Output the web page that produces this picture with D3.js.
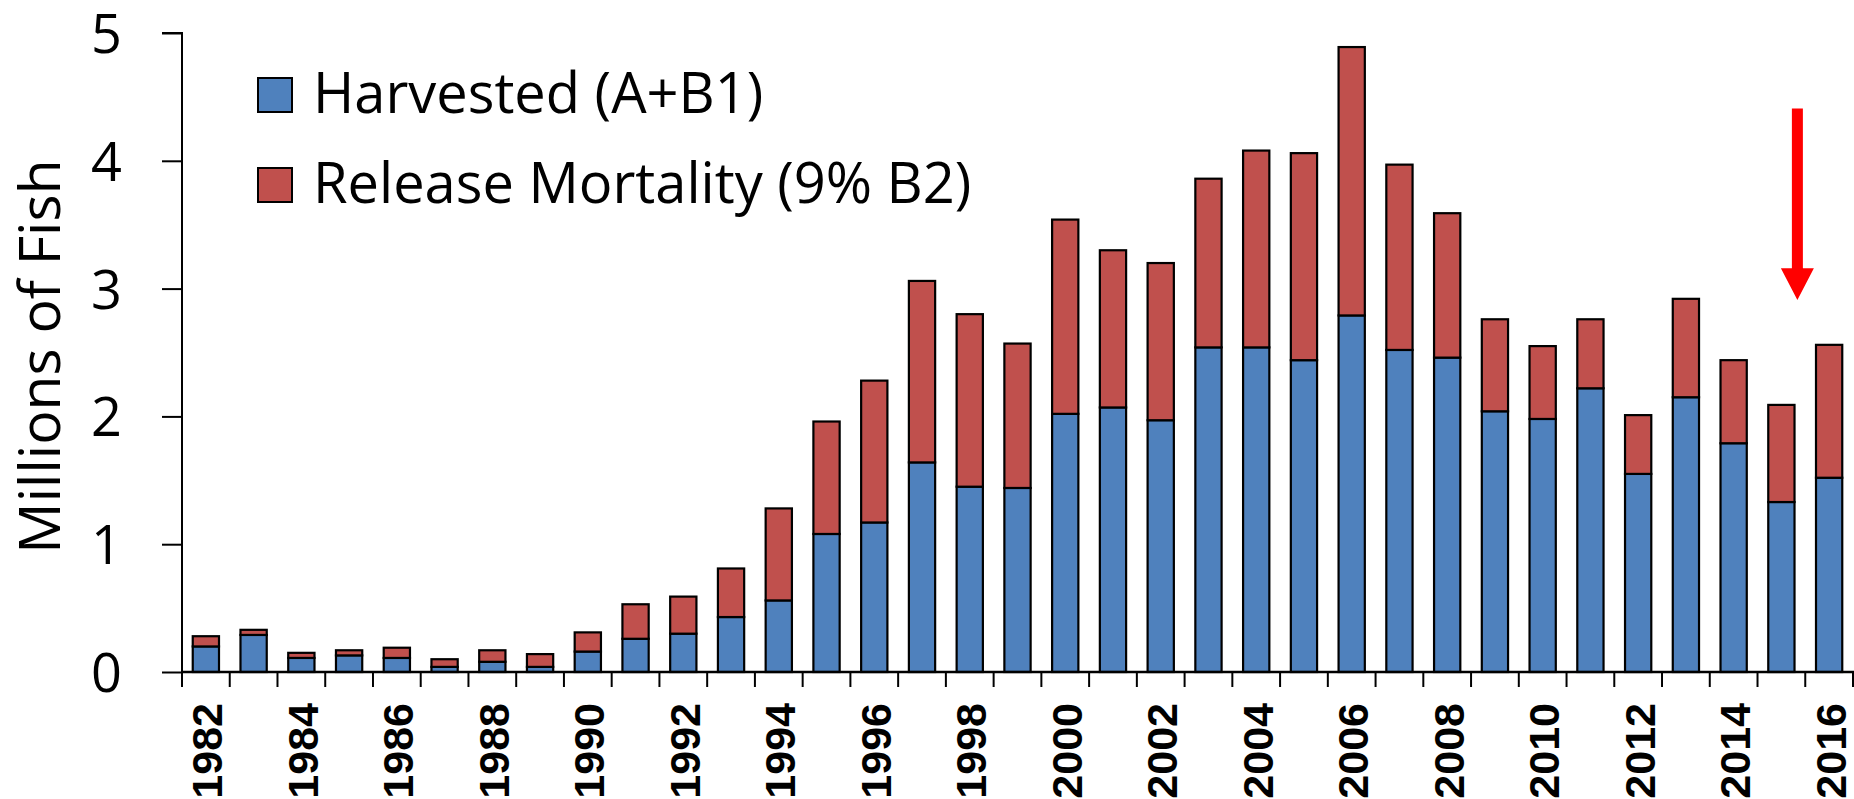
<!DOCTYPE html>
<html>
<head>
<meta charset="utf-8">
<script src="https://cdn.jsdelivr.net/npm/d3@7"></script>
<style>
  html, body { margin: 0; padding: 0; background: #fff; overflow: hidden; }
  svg { display: block; }
</style>
</head>
<body>
<svg id="chart" width="1854" height="799"></svg>
<script>
// ---- data ----
const years = [1982,1983,1984,1985,1986,1987,1988,1989,1990,1991,1992,1993,1994,1995,1996,1997,1998,1999,2000,2001,2002,2003,2004,2005,2006,2007,2008,2009,2010,2011,2012,2013,2014,2015,2016];
const harvested = [0.20,0.29,0.11,0.13,0.11,0.04,0.08,0.04,0.16,0.26,0.30,0.43,0.56,1.08,1.17,1.64,1.45,1.44,2.02,2.07,1.97,2.54,2.54,2.44,2.79,2.52,2.46,2.04,1.98,2.22,1.55,2.15,1.79,1.33,1.52];
const totals    = [0.28,0.33,0.15,0.17,0.19,0.10,0.17,0.14,0.31,0.53,0.59,0.81,1.28,1.96,2.28,3.06,2.80,2.57,3.54,3.30,3.20,3.86,4.08,4.06,4.89,3.97,3.59,2.76,2.55,2.76,2.01,2.92,2.44,2.09,2.56];
const releaseMortality = totals.map((t, i) => +(t - harvested[i]).toFixed(2));
const yTicks = [0,1,2,3,4,5];
const xTickLabels = years.filter(v => (v - 1982) % 2 === 0);
const seriesNames = ["Harvested (A+B1)", "Release Mortality (9% B2)"];
const seriesKeys = ["harvested", "release"];
const seriesColors = ["#4F81BD", "#C0504D"];
const arrowYear = 2015;

// ---- build ----
const svg = d3.select("#chart");
const W = 1854, H = 799;
const mLeft = 182, mRight = 1853, mTop = 33, mBottom = 672;

const x = d3.scaleBand().domain(years).range([mLeft, mRight]).paddingInner(0.45).paddingOuter(0.225);
const y = d3.scaleLinear().domain([0, 5]).range([mBottom, mTop]);

const rows = years.map((yr, i) => ({ year: yr, harvested: harvested[i], release: releaseMortality[i] }));
const stacked = d3.stack().keys(seriesKeys)(rows);
const color = d3.scaleOrdinal().domain(seriesKeys).range(seriesColors);

// bars
svg.append("g").selectAll("g").data(stacked).join("g")
  .attr("fill", d => color(d.key))
  .selectAll("rect").data(d => d).join("rect")
  .attr("x", d => x(d.data.year))
  .attr("width", x.bandwidth())
  .attr("y", d => y(d[1]))
  .attr("height", d => y(d[0]) - y(d[1]))
  .attr("stroke", "#000")
  .attr("stroke-width", 2.2);

// y axis
const yAxis = svg.append("g").attr("transform", `translate(${mLeft},0)`)
  .call(d3.axisLeft(y).tickValues(yTicks).tickSize(20).tickPadding(40).tickFormat(d3.format("d")));
yAxis.select(".domain").attr("stroke", "#000").attr("stroke-width", 2).attr("d", `M-20,${y(5)}H0V${y(0)}`);
yAxis.selectAll(".tick line").attr("stroke", "#000").attr("stroke-width", 2);
yAxis.selectAll(".tick text")
  .attr("font-family", "'Open Sans', sans-serif")
  .attr("font-size", 54)
  .attr("fill", "#000")
  .attr("dy", "0.36em");

// x axis: line + ticks at band boundaries
const step = x.step();
const xAxisG = svg.append("g");
xAxisG.append("line")
  .attr("x1", mLeft).attr("x2", W).attr("y1", mBottom).attr("y2", mBottom)
  .attr("stroke", "#000").attr("stroke-width", 2.5);
const boundaries = years.map(yr => x(yr) + x.bandwidth() / 2 - step / 2).concat([x(years[years.length - 1]) + x.bandwidth() / 2 + step / 2]);
xAxisG.selectAll("line.tk").data(boundaries).join("line")
  .attr("class", "tk")
  .attr("x1", d => d).attr("x2", d => d)
  .attr("y1", mBottom).attr("y2", mBottom + 15)
  .attr("stroke", "#000").attr("stroke-width", 2);

// x labels
xAxisG.selectAll("text").data(xTickLabels).join("text")
  .attr("transform", d => `translate(${x(d) + x.bandwidth() / 2 + 1},${mBottom + 31}) rotate(-90)`)
  .attr("text-anchor", "end")
  .attr("dy", "0.36em")
  .attr("font-family", "'Liberation Sans', Arial, sans-serif")
  .attr("font-weight", "bold")
  .attr("font-size", 43)
  .attr("fill", "#000")
  .text(d => d);

// y axis title
svg.append("text")
  .attr("transform", `translate(39,${(mTop + mBottom) / 2 + 4}) rotate(-90)`)
  .attr("text-anchor", "middle")
  .attr("dy", "0.36em")
  .attr("font-family", "'Open Sans', sans-serif")
  .attr("font-size", 57)
  .attr("fill", "#000")
  .text("Millions of Fish");

// legend
const legend = svg.append("g").attr("transform", "translate(258,78)");
seriesNames.forEach((name, i) => {
  const g = legend.append("g").attr("transform", `translate(0,${i * 90})`);
  g.append("rect").attr("width", 34).attr("height", 34)
    .attr("fill", seriesColors[i]).attr("stroke", "#000").attr("stroke-width", 2);
  g.append("text").attr("x", 55).attr("y", 35)
    .attr("font-family", "'Open Sans', sans-serif")
    .attr("font-size", 56)
    .attr("fill", "#000")
    .text(name);
});

// red arrow annotation
const ax = x(arrowYear) + x.bandwidth() / 2 + 16;
const arrowTop = y(4.41), headBase = y(3.16), tip = y(2.91);
svg.append("path")
  .attr("d", `M${ax - 5.5},${arrowTop} H${ax + 5.5} V${headBase} H${ax + 16.5} L${ax},${tip} L${ax - 16.5},${headBase} H${ax - 5.5} Z`)
  .attr("fill", "#FF0000");
</script>
</body>
</html>
